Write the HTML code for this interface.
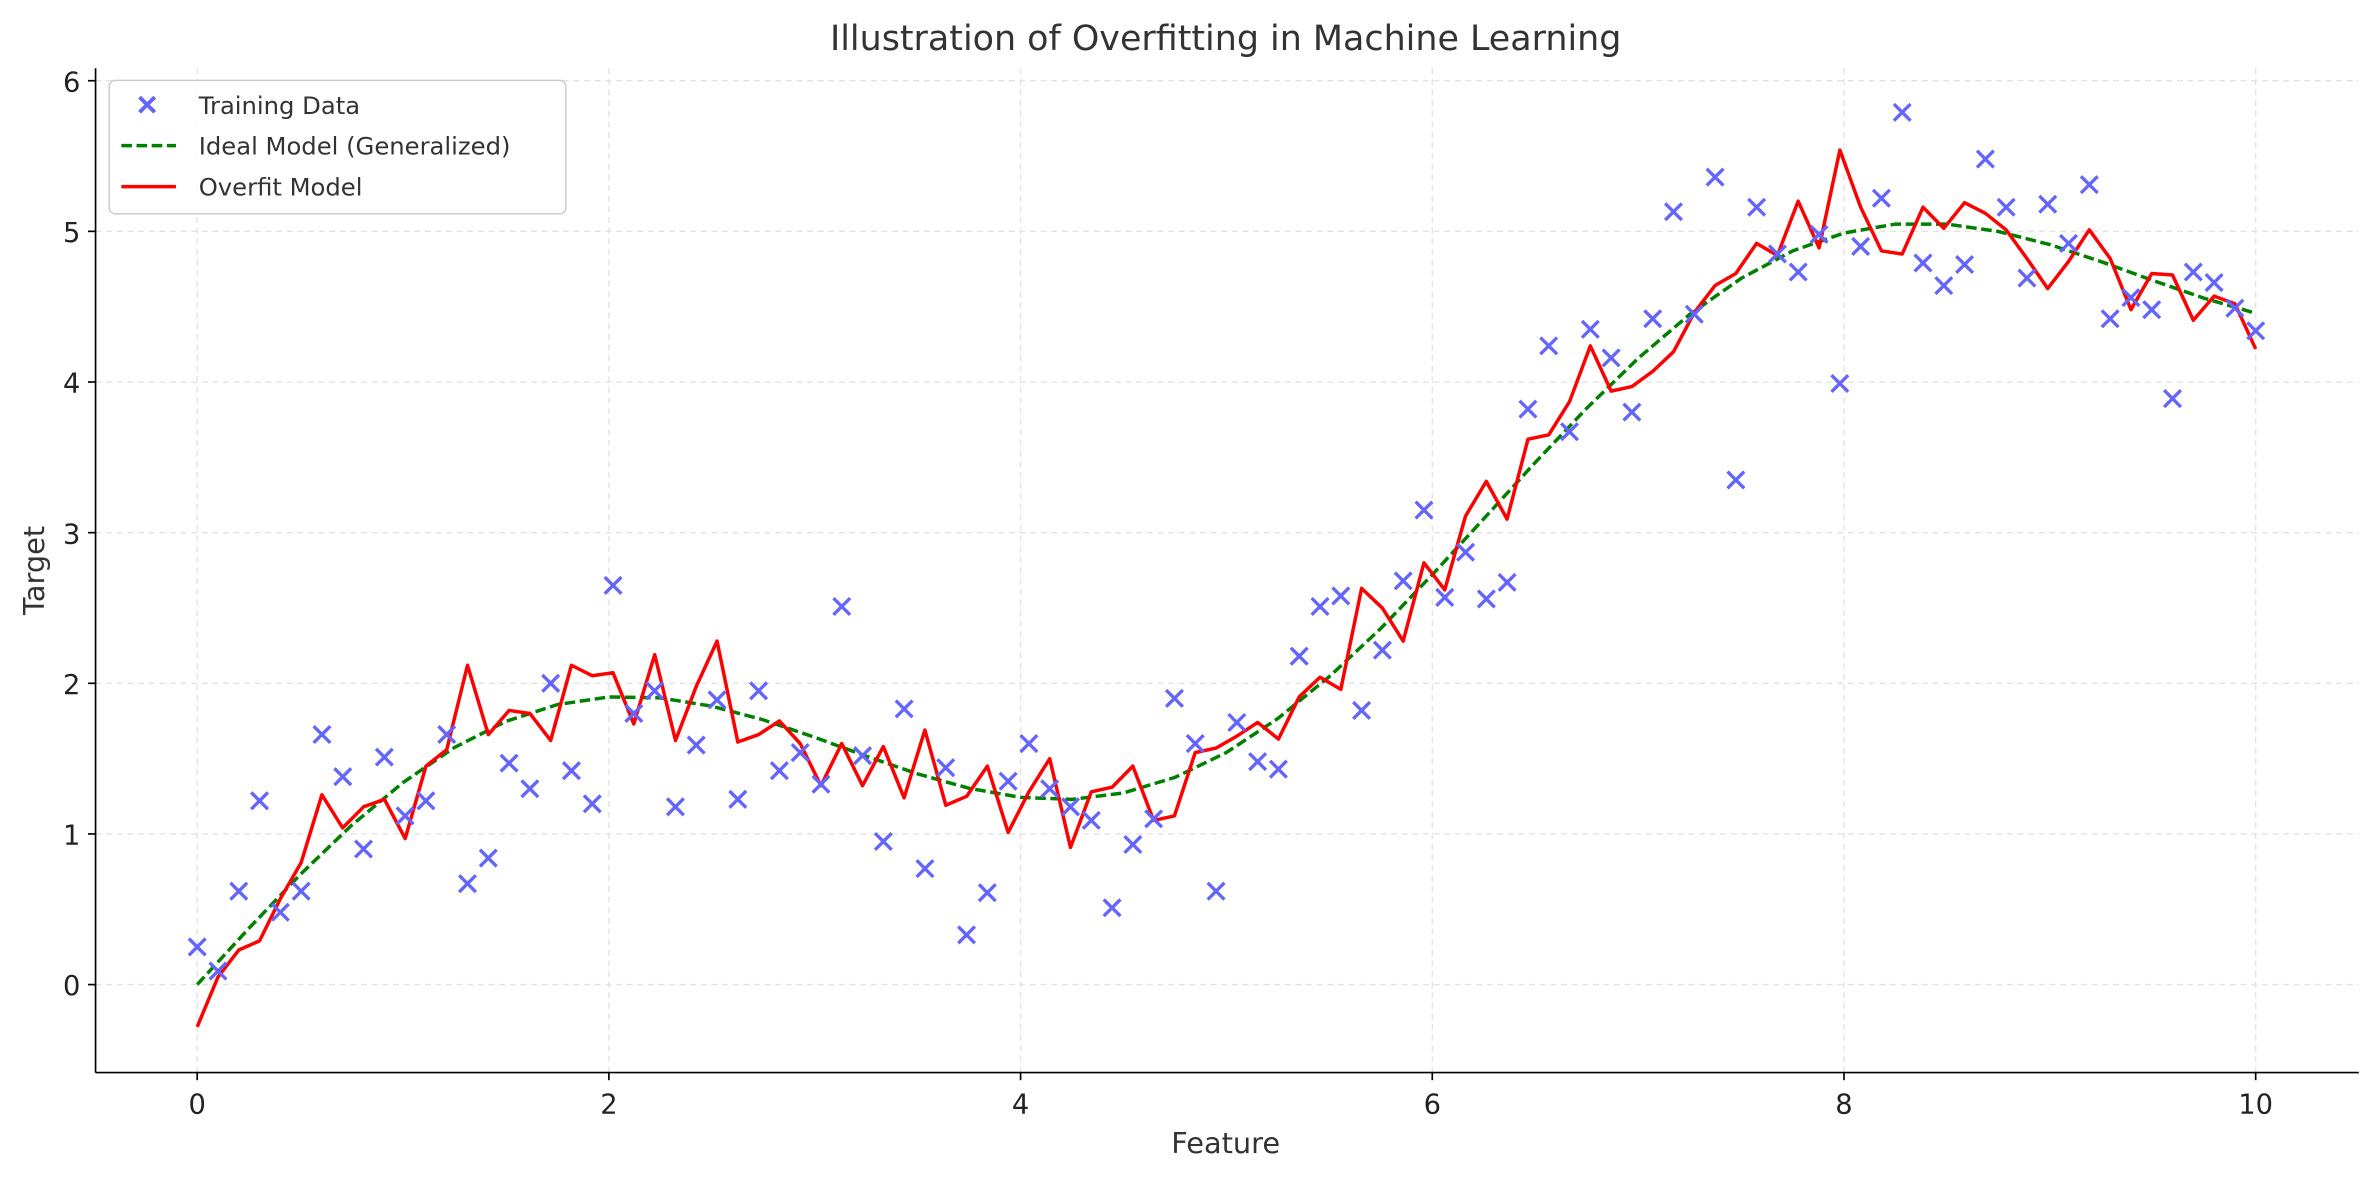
<!DOCTYPE html>
<html><head><meta charset="utf-8"><style>
html,body{margin:0;padding:0;background:#fff;overflow:hidden;}
svg{display:block;font-family:"DejaVu Sans","Liberation Sans",sans-serif;}
</style></head><body>
<svg id="chart" width="2379" height="1180" viewBox="0 0 1568.3 777.8" preserveAspectRatio="none">
<rect width="1568.3" height="777.8" fill="#fff"/>
<text x="808" y="33" font-size="23" fill="#333" text-anchor="middle">Illustration of Overfitting in Machine Learning</text>
<g id="grid"></g><g id="ideal"></g><g id="overfit"></g><g id="points"></g><g id="axes"></g>
<text x="808" y="760" font-size="19" fill="#333" text-anchor="middle">Feature</text>
<text transform="translate(29,376) rotate(-90)" font-size="19" fill="#333" text-anchor="middle">Target</text>
<g>
<rect x="72" y="53" width="301" height="88" rx="4" fill="#fff" fill-opacity="0.85" stroke="#ccc"/>
<g>
<path d="M92,64 L102,74 M102,64 L92,74" stroke="rgb(100,100,255)" stroke-width="2.6"/>
<text x="131" y="75" font-size="16" fill="#333">Training Data</text></g>
<g>
<line x1="80" y1="96" x2="116" y2="96" stroke="green" stroke-width="2.3" stroke-dasharray="7,3"/>
<text x="131" y="102" font-size="16" fill="#333">Ideal Model (Generalized)</text></g>
<g>
<line x1="80" y1="123" x2="116" y2="123" stroke="red" stroke-width="2.3"/>
<text x="131" y="129" font-size="16" fill="#333">Overfit Model</text></g>
</g>
</svg>
<script>
const trainY=[0.25,0.09,0.62,1.22,0.48,0.62,1.66,1.38,0.90,1.51,1.12,1.22,1.66,0.67,0.84,1.47,1.30,2.00,1.42,1.20,2.65,1.80,1.95,1.18,1.59,1.89,1.23,1.95,1.42,1.54,1.33,2.51,1.52,0.95,1.83,0.77,1.44,0.33,0.61,1.35,1.60,1.30,1.18,1.09,0.51,0.93,1.10,1.90,1.60,0.62,1.74,1.48,1.43,2.18,2.51,2.58,1.82,2.22,2.68,3.15,2.57,2.87,2.56,2.67,3.82,4.24,3.67,4.35,4.16,3.80,4.42,5.13,4.45,5.36,3.35,5.16,4.85,4.73,4.98,3.99,4.90,5.22,5.79,4.79,4.64,4.78,5.48,5.16,4.69,5.18,4.92,5.31,4.42,4.56,4.48,3.89,4.73,4.66,4.49,4.34];
const overfitY=[-0.28,0.05,0.23,0.29,0.57,0.81,1.26,1.04,1.18,1.23,0.97,1.45,1.56,2.12,1.66,1.82,1.80,1.62,2.12,2.05,2.07,1.73,2.19,1.62,1.98,2.28,1.61,1.66,1.75,1.60,1.32,1.60,1.32,1.58,1.24,1.69,1.19,1.25,1.45,1.01,1.28,1.50,0.91,1.28,1.31,1.45,1.09,1.12,1.54,1.57,1.65,1.74,1.63,1.91,2.04,1.96,2.63,2.50,2.28,2.80,2.62,3.11,3.34,3.09,3.62,3.65,3.87,4.24,3.94,3.97,4.07,4.20,4.46,4.64,4.72,4.92,4.84,5.20,4.89,5.54,5.16,4.87,4.85,5.16,5.02,5.19,5.12,5.01,4.82,4.62,4.80,5.01,4.82,4.48,4.72,4.71,4.41,4.57,4.52,4.22];
const idealY=[0,0.372,0.729,1.057,1.341,1.574,1.747,1.859,1.909,1.903,1.848,1.757,1.641,1.517,1.399,1.303,1.243,1.230,1.272,1.376,1.541,1.766,2.044,2.365,2.721,3.092,3.465,3.826,4.157,4.448,4.688,4.870,4.989,5.048,5.048,4.999,4.912,4.799,4.675,4.556,4.456];
const xTicks=[0,2,4,6,8,10];
const yTicks=[0,1,2,3,4,5,6];
const NS="http://www.w3.org/2000/svg";
function X(v){return 130+v*135.7;}
function Y(v){return 649-v*99.3;}
function mk(tag,attrs,parent){const e=document.createElementNS(NS,tag);for(const k in attrs)e.setAttribute(k,attrs[k]);parent.appendChild(e);return e;}
const grid=document.getElementById('grid'),axes=document.getElementById('axes');
xTicks.forEach(t=>{
 const g=mk('line',{x1:X(t),x2:X(t),y1:45,y2:707,stroke:'#e3e3e3','stroke-width':0.9,'stroke-dasharray':'4,3'},grid);
 
 
 mk('line',{x1:X(t),x2:X(t),y1:707,y2:712,stroke:'#000','stroke-width':1.1},axes);
 const l=mk('text',{x:X(t),y:734,'font-size':18,fill:'#222','text-anchor':'middle'},axes);l.textContent=t;
 
 
});
yTicks.forEach(t=>{
 const g=mk('line',{x1:63,x2:1555,y1:Y(t),y2:Y(t),stroke:'#e3e3e3','stroke-width':0.9,'stroke-dasharray':'4,3'},grid);
 
 
 mk('line',{x1:58,x2:63,y1:Y(t),y2:Y(t),stroke:'#000','stroke-width':1.1},axes);
 const l=mk('text',{x:53,y:Y(t)+7,'font-size':18,fill:'#222','text-anchor':'end'},axes);l.textContent=t;
 
 
});
const ls=mk('line',{x1:63,x2:63,y1:45,y2:707,stroke:'#000','stroke-width':1.1},axes);


const bs=mk('line',{x1:63,x2:1555,y1:707,y2:707,stroke:'#000','stroke-width':1.1},axes);


const n=trainY.length;
let d='';idealY.forEach((v,i)=>{d+=(i?'L':'M')+X(i*10/(idealY.length-1)).toFixed(1)+','+Y(v).toFixed(1);});
const ip=mk('path',{d:d,fill:'none',stroke:'green','stroke-width':2.3,'stroke-dasharray':'7,3'},document.getElementById('ideal'));


d='';overfitY.forEach((v,i)=>{d+=(i?'L':'M')+X(i*10/(n-1)).toFixed(1)+','+Y(v).toFixed(1);});
const op=mk('path',{d:d,fill:'none',stroke:'red','stroke-width':2.3,'stroke-linejoin':'round'},document.getElementById('overfit'));


const pg=document.getElementById('points');
trainY.forEach((v,i)=>{
 const cx=X(i*10/(n-1)),cy=Y(v);
 const p=mk('path',{d:`M${cx-5.5},${cy-5.5}L${cx+5.5},${cy+5.5}M${cx+5.5},${cy-5.5}L${cx-5.5},${cy+5.5}`,stroke:'rgb(100,100,255)','stroke-width':2.2},pg);
 
 
});
</script>
</body></html>
